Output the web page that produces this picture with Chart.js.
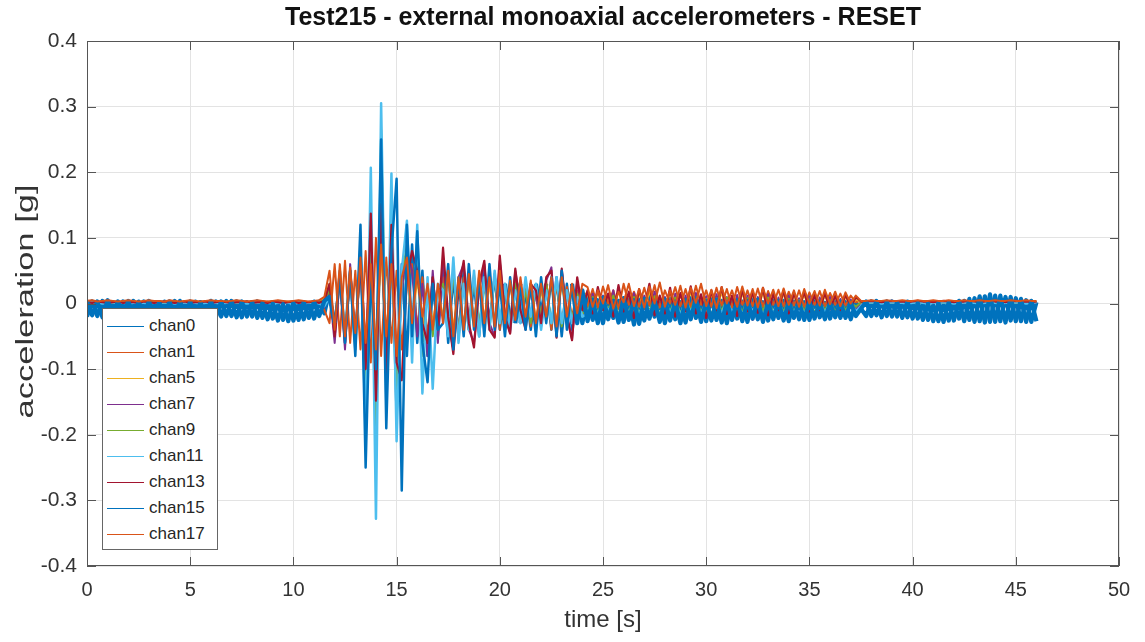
<!DOCTYPE html>
<html>
<head>
<meta charset="utf-8">
<script src="https://cdn.jsdelivr.net/npm/chart.js@4.4.0/dist/chart.umd.min.js"></script>
<style>
  html, body { margin: 0; padding: 0; background: #fff; }
  #wrap { position: relative; width: 1145px; height: 642px; }
  #legend {
    position: absolute; left: 102px; top: 308px; width: 116px; height: 242px;
    box-sizing: border-box; background: #fff; border: 1px solid #666;
    font-family: "Liberation Sans", Arial, Helvetica, sans-serif; font-size: 17px; color: #262626;
    padding-top: 4px;
  }
  .item { height: 26px; display: flex; align-items: center; }
  .swatch { width: 37px; height: 0; border-top: 1px solid; margin-left: 4px; margin-right: 5px; }
</style>
</head>
<body>
<div id="wrap">
  <canvas id="chart" width="1145" height="642"></canvas>
  <div id="legend"></div>
</div>
<script>
// Test215 record, decimated to one sample every 0.25 s (0 .. 46 s), values in g
const dt = 0.25;
const titleText = "Test215 - external monoaxial accelerometers - RESET";
const yTitle = "acceleration [g]";
const names = ["chan0", "chan1", "chan5", "chan7", "chan9", "chan11", "chan13", "chan15", "chan17"];
const colors = ["#0072BD", "#D95319", "#EDB120", "#7E2F8E", "#77AC30", "#4DBEEE", "#A2142F", "#0072BD", "#D95319"];
const widths = [2.5, 2, 2, 2, 2, 2.5, 2.2, 2.5, 2];
const xTicks = [0, 5, 10, 15, 20, 25, 30, 35, 40, 45, 50];
const yTicks = [-0.4, -0.3, -0.2, -0.1, 0, 0.1, 0.2, 0.3, 0.4];

const chan0 = [
  // 0 - 11.5 s
  -0.02, 0.003, -0.019, 0.004, -0.021, 0.002, -0.02, 0.003, -0.019, 0.004,
  -0.021, 0.003, -0.02, 0.002, -0.022, 0.003, -0.02, 0.004, -0.021, 0.002,
  -0.022, 0.003, -0.02, 0.002, -0.021, 0.003, -0.02, 0.004, -0.019, 0.003,
  -0.021, 0.002, -0.02, 0.003, -0.022, 0.001, -0.023, 0.0, -0.025, -0.001,
  -0.026, 0.0, -0.024, 0.001, -0.023, 0.003, -0.015,
  // 11.75 - 17 s
  0.02, -0.04, 0.05, -0.05, 0.04, -0.06, 0.08, -0.12, 0.1, -0.15,
  0.14, -0.1, 0.12, -0.17, 0.06, -0.08, 0.09, -0.06, 0.05, -0.08,
  0.04, -0.05,
  // 17.25 - 24 s
  0.05, -0.06, 0.04, -0.05, 0.05, -0.04, 0.03, -0.05, 0.05, -0.03,
  0.04, -0.04, 0.03, -0.03, 0.04, -0.03, 0.02, -0.04, 0.03, -0.02,
  0.03, -0.04, 0.04, -0.05, 0.03, -0.04, 0.02, -0.03,
  // 24.25 - 37.5 s
  0.01, -0.025, 0.005, -0.03, 0.012, -0.022, 0.004, -0.028, 0.008, -0.032,
  0.006, -0.026, 0.01, -0.02, 0.003, -0.03, 0.007, -0.024, 0.002, -0.029,
  0.008, -0.022, 0.005, -0.027, 0.009, -0.025, 0.004, -0.03, 0.006, -0.023,
  0.003, -0.028, 0.007, -0.024, 0.002, -0.026, 0.005, -0.022, 0.004, -0.027,
  0.003, -0.024, 0.002, -0.025, 0.004, -0.021, 0.001, -0.023, 0.003, -0.022,
  0.002, -0.024, 0.001, -0.008,
  // 37.75 - 46 s
  -0.019, 0.003, -0.018, 0.002, -0.019, 0.003, -0.02, 0.002, -0.021, 0.001,
  -0.023, 0.0, -0.025, -0.002, -0.027, -0.001, -0.026, 0.002, -0.023, 0.004,
  -0.025, 0.008, -0.027, 0.011, -0.028, 0.012, -0.027, 0.01, -0.026, 0.008,
  -0.027, 0.005, -0.028, 0.002
];

const chan1 = [
  0.003, 0.004, 0.002, 0.003, 0.004, 0.003, 0.002, 0.003, 0.004, 0.003,
  0.002, 0.003, 0.004, 0.003, 0.003, 0.002, 0.004, 0.003, 0.002, 0.003,
  0.004, 0.003, 0.002, 0.003, 0.004, 0.003, 0.003, 0.002, 0.003, 0.004,
  0.003, 0.002, 0.003, 0.004, 0.003, 0.002, 0.003, 0.004, 0.003, 0.002,
  0.003, 0.004, 0.003, 0.002, 0.003, 0.004, -0.01,
  -0.03, 0.06, -0.05, 0.065, -0.06, 0.05, -0.07, 0.08, -0.09, 0.1,
  -0.08, 0.07, -0.06, 0.05, -0.07, 0.03, 0.06, -0.04, 0.04, -0.05,
  0.03, -0.02,
  0.04, -0.04, 0.05, -0.045, 0.04, -0.03, 0.045, -0.04, 0.035, -0.03,
  0.045, -0.04, 0.03, -0.03, 0.035, -0.025, 0.03, -0.035, 0.025, -0.02,
  0.035, -0.04, 0.03, -0.03, 0.025, -0.02, 0.02, -0.01,
  -0.004, 0.022, -0.006, 0.026, 0.0, 0.02, -0.008, 0.03, -0.002, 0.018,
  -0.005, 0.024, -0.003, 0.028, -0.006, 0.02, 0.0, 0.025, -0.004, 0.022,
  -0.006, 0.027, -0.002, 0.02, -0.005, 0.024, -0.003, 0.022, -0.006, 0.025,
  -0.002, 0.02, -0.004, 0.023, -0.005, 0.019, -0.002, 0.021, -0.004, 0.018,
  -0.003, 0.02, -0.005, 0.017, -0.002, 0.019, -0.004, 0.016, -0.002, 0.015,
  -0.003, 0.012, 0.002, 0.004,
  0.003, 0.004, 0.003, 0.003, 0.004, 0.003, 0.003, 0.004, 0.003, 0.003,
  0.004, 0.003, 0.003, 0.004, 0.003, 0.003, 0.004, 0.003, 0.003, 0.004,
  0.003, 0.003, 0.004, 0.003, 0.003, 0.004, 0.003, 0.003, 0.004, 0.003,
  0.003, 0.004, 0.003, 0.003
];

const chan5 = [
  0.002, 0.003, 0.002, 0.002, 0.003, 0.002, 0.003, 0.002, 0.002, 0.003,
  0.002, 0.002, 0.003, 0.002, 0.003, 0.002, 0.002, 0.003, 0.002, 0.002,
  0.003, 0.002, 0.002, 0.003, 0.002, 0.003, 0.002, 0.002, 0.003, 0.002,
  0.002, 0.003, 0.002, 0.002, 0.003, 0.002, 0.003, 0.002, 0.002, 0.003,
  0.002, 0.002, 0.003, 0.002, 0.003, 0.002, 0.008,
  0.03, -0.04, 0.045, -0.05, 0.04, -0.05, 0.06, -0.07, 0.07, -0.08,
  0.08, -0.07, 0.07, -0.08, 0.03, 0.05, -0.04, 0.04, -0.04, 0.03,
  -0.03, 0.02,
  -0.02, 0.04, -0.04, 0.03, -0.035, 0.035, -0.03, 0.04, -0.025, 0.03,
  -0.03, 0.04, -0.025, 0.03, -0.02, 0.03, -0.02, 0.025, -0.025, 0.02,
  -0.02, 0.03, -0.03, 0.03, -0.015, 0.02, -0.01, 0.015,
  0.015, -0.01, 0.018, -0.008, 0.012, -0.012, 0.02, -0.006, 0.014, -0.01,
  0.016, -0.008, 0.019, -0.012, 0.01, -0.009, 0.017, -0.011, 0.013, -0.007,
  0.018, -0.01, 0.012, -0.013, 0.015, -0.006, 0.017, -0.01, 0.011, -0.012,
  0.016, -0.008, 0.014, -0.009, 0.017, -0.011, 0.012, -0.006, 0.015, -0.009,
  0.012, -0.005, 0.013, -0.008, 0.011, -0.006, 0.012, -0.005, 0.009, -0.006,
  0.01, -0.003, 0.006, 0.003,
  0.002, 0.003, 0.002, 0.002, 0.003, 0.002, 0.003, 0.002, 0.002, 0.003,
  0.002, 0.002, 0.003, 0.002, 0.003, 0.002, 0.002, 0.003, 0.002, 0.002,
  0.003, 0.002, 0.002, 0.003, 0.002, 0.003, 0.002, 0.002, 0.003, 0.002,
  0.002, 0.003, 0.002, 0.002
];

const chan7 = [
  0.001, 0.002, 0.002, 0.001, 0.002, 0.001, 0.002, 0.002, 0.001, 0.002,
  0.002, 0.001, 0.002, 0.002, 0.001, 0.002, 0.001, 0.002, 0.002, 0.001,
  0.002, 0.002, 0.001, 0.002, 0.001, 0.002, 0.002, 0.001, 0.002, 0.002,
  0.001, 0.002, 0.002, 0.001, 0.002, 0.001, 0.002, 0.002, 0.001, 0.002,
  0.002, 0.001, 0.002, 0.001, 0.002, 0.002, -0.006,
  0.02, -0.06, 0.04, -0.07, 0.06, -0.06, 0.08, -0.07, 0.1, -0.12,
  0.13, -0.09, 0.1, -0.13, 0.02, 0.08, 0.05, -0.05, 0.03, -0.08,
  0.05, -0.06,
  0.07, -0.03, -0.07, 0.04, 0.06, -0.04, -0.06, 0.02, 0.06, -0.03,
  -0.05, 0.065, -0.02, -0.045, 0.05, 0.0, -0.035, 0.025, 0.01, -0.035,
  0.035, 0.055, -0.05, 0.05, -0.015, -0.055, 0.035, -0.015,
  -0.02, 0.015, -0.025, 0.012, -0.018, 0.02, -0.028, 0.01, -0.022, 0.016,
  -0.026, 0.012, -0.02, 0.018, -0.024, 0.01, -0.027, 0.015, -0.021, 0.012,
  -0.025, 0.016, -0.019, 0.011, -0.026, 0.014, -0.022, 0.01, -0.024, 0.013,
  -0.02, 0.012, -0.025, 0.01, -0.018, 0.014, -0.023, 0.009, -0.02, 0.012,
  -0.021, 0.008, -0.019, 0.011, -0.022, 0.009, -0.017, 0.01, -0.02, 0.007,
  -0.016, 0.006, -0.01, 0.002,
  0.001, 0.002, 0.002, 0.001, 0.002, 0.001, 0.002, 0.002, 0.001, 0.002,
  0.002, 0.001, 0.002, 0.002, 0.001, 0.002, 0.001, 0.002, 0.002, 0.001,
  0.002, 0.002, 0.001, 0.002, 0.001, 0.002, 0.002, 0.001, 0.002, 0.002,
  0.001, 0.002, 0.002, 0.001
];

const chan9 = [
  0.002, 0.001, 0.002, 0.003, 0.002, 0.001, 0.002, 0.002, 0.003, 0.002,
  0.001, 0.002, 0.002, 0.003, 0.002, 0.001, 0.002, 0.003, 0.002, 0.002,
  0.001, 0.002, 0.003, 0.002, 0.002, 0.001, 0.002, 0.003, 0.002, 0.001,
  0.002, 0.002, 0.003, 0.002, 0.001, 0.002, 0.002, 0.003, 0.002, 0.001,
  0.002, 0.003, 0.002, 0.002, 0.001, 0.002, 0.005,
  0.02, -0.03, 0.035, -0.045, 0.05, -0.06, 0.07, -0.12, 0.1, -0.2,
  0.265, -0.1, 0.12, -0.14, 0.04, 0.09, -0.05, 0.07, -0.08, 0.02,
  -0.05, 0.02,
  0.03, -0.04, 0.05, -0.05, 0.03, -0.04, 0.04, -0.035, 0.03, -0.04,
  0.045, -0.03, 0.025, -0.035, 0.03, -0.025, 0.02, -0.03, 0.025, -0.02,
  0.03, -0.03, 0.035, -0.035, 0.02, -0.025, 0.015, -0.015,
  -0.012, 0.01, -0.016, 0.008, -0.01, 0.012, -0.018, 0.006, -0.014, 0.01,
  -0.017, 0.007, -0.012, 0.011, -0.019, 0.005, -0.013, 0.009, -0.016, 0.006,
  -0.011, 0.01, -0.015, 0.007, -0.018, 0.008, -0.012, 0.009, -0.016, 0.005,
  -0.014, 0.008, -0.017, 0.006, -0.012, 0.009, -0.015, 0.004, -0.013, 0.007,
  -0.014, 0.005, -0.012, 0.006, -0.015, 0.004, -0.011, 0.005, -0.013, 0.003,
  -0.01, 0.002, -0.005, 0.002,
  0.002, 0.001, 0.002, 0.003, 0.002, 0.001, 0.002, 0.002, 0.003, 0.002,
  0.001, 0.002, 0.002, 0.003, 0.002, 0.001, 0.002, 0.003, 0.002, 0.002,
  0.001, 0.002, 0.003, 0.002, 0.002, 0.001, 0.002, 0.003, 0.002, 0.001,
  0.002, 0.002, 0.003, 0.002
];

const chan11 = [
  0.001, 0.002, 0.001, 0.0, 0.001, 0.002, 0.001, 0.001, 0.0, 0.001,
  0.002, 0.001, 0.0, 0.001, 0.001, 0.002, 0.001, 0.0, 0.001, 0.002,
  0.001, 0.001, 0.0, 0.001, 0.002, 0.001, 0.0, 0.001, 0.001, 0.002,
  0.001, 0.0, 0.001, 0.002, 0.001, 0.001, 0.0, 0.001, 0.002, 0.001,
  0.0, 0.001, 0.001, 0.002, 0.001, 0.0, -0.004,
  0.01, -0.03, 0.03, -0.04, 0.05, -0.07, 0.09, -0.2, 0.207, -0.328,
  0.305, -0.15, 0.198, -0.21, 0.05, 0.126, -0.09, 0.12, -0.137, 0.04,
  -0.13, 0.03,
  0.02, -0.05, 0.07, -0.06, 0.03, -0.04, 0.05, -0.05, 0.04, -0.04,
  0.05, -0.03, 0.03, -0.04, 0.02, -0.03, 0.04, -0.02, 0.03, -0.04,
  0.02, -0.03, 0.04, -0.03, 0.02, -0.03, 0.01, -0.02,
  -0.015, 0.004, -0.018, 0.006, -0.012, 0.002, -0.02, 0.005, -0.016, 0.003,
  -0.019, 0.006, -0.014, 0.002, -0.021, 0.004, -0.015, 0.003, -0.018, 0.005,
  -0.013, 0.002, -0.017, 0.004, -0.02, 0.003, -0.016, 0.005, -0.014, 0.002,
  -0.018, 0.003, -0.015, 0.004, -0.019, 0.002, -0.016, 0.003, -0.017, 0.001,
  -0.015, 0.002, -0.016, 0.001, -0.018, 0.002, -0.014, 0.001, -0.02, 0.0,
  -0.016, 0.001, -0.012, -0.004,
  0.001, 0.002, 0.001, 0.0, 0.001, 0.002, 0.001, 0.001, 0.0, 0.001,
  0.002, 0.001, 0.0, 0.001, 0.001, 0.002, 0.001, 0.0, 0.001, 0.002,
  0.001, 0.001, 0.0, 0.001, 0.002, 0.001, 0.0, 0.001, 0.001, 0.002,
  0.001, 0.0, 0.001, 0.002
];

const chan13 = [
  0.002, 0.001, 0.003, 0.002, 0.001, 0.002, 0.003, 0.001, 0.002, 0.002,
  0.001, 0.003, 0.002, 0.001, 0.002, 0.003, 0.002, 0.001, 0.002, 0.003,
  0.001, 0.002, 0.002, 0.003, 0.001, 0.002, 0.003, 0.002, 0.001, 0.002,
  0.002, 0.003, 0.001, 0.002, 0.002, 0.001, 0.003, 0.002, 0.001, 0.002,
  0.003, 0.001, 0.002, 0.002, 0.003, 0.001, 0.004,
  0.03, -0.05, 0.04, -0.06, 0.05, -0.05, 0.06, -0.1, 0.137, -0.148,
  0.152, -0.11, 0.12, -0.09, -0.117, 0.04, 0.08, 0.05, -0.03, -0.06,
  0.04, -0.04,
  0.085, -0.02, -0.077, 0.02, 0.065, -0.03, -0.067, 0.03, 0.065, -0.04,
  -0.052, 0.073, -0.02, -0.046, 0.053, -0.01, -0.04, 0.03, 0.02, -0.03,
  0.04, 0.05, -0.052, 0.053, -0.02, -0.056, 0.04, -0.01,
  0.02, -0.015, 0.025, -0.01, 0.015, -0.02, 0.028, -0.012, 0.018, -0.022,
  0.022, -0.008, 0.03, -0.018, 0.012, -0.015, 0.024, -0.02, 0.016, -0.012,
  0.026, -0.015, 0.014, -0.022, 0.02, -0.01, 0.025, -0.016, 0.012, -0.019,
  0.022, -0.012, 0.018, -0.014, 0.024, -0.018, 0.015, -0.01, 0.02, -0.015,
  0.016, -0.008, 0.018, -0.012, 0.014, -0.01, 0.016, -0.009, 0.012, -0.01,
  0.014, -0.006, 0.01, 0.003,
  0.003, 0.004, 0.003, 0.002, 0.003, 0.004, 0.003, 0.003, 0.002, 0.003,
  0.004, 0.003, 0.003, 0.002, 0.003, 0.004, 0.003, 0.002, 0.003, 0.003,
  0.004, 0.003, 0.002, 0.003, 0.004, 0.003, 0.003, 0.002, 0.003, 0.004,
  0.003, 0.003, 0.002, 0.003
];

const chan15 = [
  0.004, -0.018, 0.003, -0.021, 0.005, -0.019, 0.003, -0.02, 0.004, -0.022,
  0.003, -0.019, 0.004, -0.021, 0.002, -0.02, 0.003, -0.022, 0.004, -0.019,
  0.003, -0.021, 0.002, -0.023, 0.004, -0.02, 0.003, -0.019, 0.004, -0.021,
  0.003, -0.02, 0.002, -0.022, 0.001, -0.024, 0.0, -0.026, -0.001, -0.027,
  0.001, -0.025, 0.002, -0.022, 0.003, -0.019, 0.004,
  0.01, -0.03, 0.04, -0.06, 0.05, -0.08, 0.12, -0.25, 0.05, -0.1,
  0.25, -0.19, 0.08, 0.19, -0.285, 0.12, -0.05, 0.11, -0.06, -0.12,
  0.03, -0.04,
  -0.03, 0.06, -0.07, 0.04, -0.05, 0.06, -0.04, 0.04, -0.05, 0.06,
  -0.04, 0.03, -0.05, 0.04, -0.03, 0.03, -0.04, 0.03, -0.05, 0.04,
  -0.03, 0.04, -0.05, 0.05, -0.04, 0.03, -0.03, 0.02,
  -0.027, 0.006, -0.03, 0.009, -0.024, 0.004, -0.029, 0.008, -0.025, 0.005,
  -0.031, 0.007, -0.023, 0.004, -0.028, 0.006, -0.026, 0.003, -0.03, 0.005,
  -0.024, 0.008, -0.028, 0.004, -0.026, 0.006, -0.029, 0.003, -0.025, 0.005,
  -0.027, 0.004, -0.023, 0.006, -0.028, 0.002, -0.024, 0.004, -0.026, 0.003,
  -0.022, 0.002, -0.025, 0.003, -0.023, 0.002, -0.024, 0.001, -0.021, 0.003,
  -0.022, 0.002, -0.019, -0.008,
  0.003, -0.019, 0.004, -0.021, 0.003, -0.02, 0.002, -0.022, 0.003, -0.023,
  0.001, -0.025, 0.0, -0.027, 0.001, -0.028, 0.002, -0.026, 0.004, -0.027,
  0.007, -0.028, 0.011, -0.029, 0.014, -0.028, 0.012, -0.029, 0.01, -0.027,
  0.007, -0.028, 0.004, -0.027
];

const chan17 = [
  0.004, 0.005, 0.003, 0.004, 0.005, 0.004, 0.003, 0.004, 0.005, 0.004,
  0.003, 0.004, 0.005, 0.004, 0.004, 0.003, 0.005, 0.004, 0.003, 0.004,
  0.005, 0.004, 0.003, 0.004, 0.005, 0.004, 0.004, 0.003, 0.004, 0.005,
  0.004, 0.003, 0.004, 0.005, 0.004, 0.003, 0.004, 0.005, 0.004, 0.003,
  0.004, 0.005, 0.004, 0.003, 0.004, 0.005, 0.01,
  0.05, -0.04, 0.06, -0.05, 0.055, -0.045, 0.07, -0.06, 0.06, -0.07,
  0.09, -0.05, 0.06, -0.08, 0.04, 0.07, -0.03, 0.05, -0.02, 0.03,
  -0.04, 0.03,
  -0.03, 0.05, -0.05, 0.04, -0.04, 0.045, -0.035, 0.05, -0.03, 0.04,
  -0.035, 0.05, -0.03, 0.035, -0.025, 0.04, -0.02, 0.035, -0.03, 0.03,
  -0.02, 0.04, -0.035, 0.04, -0.02, 0.03, -0.015, 0.03,
  0.025, -0.005, 0.02, 0.0, 0.028, -0.008, 0.018, 0.002, 0.03, -0.004,
  0.022, -0.006, 0.026, 0.0, 0.032, -0.005, 0.02, -0.002, 0.027, -0.006,
  0.024, 0.001, 0.03, -0.004, 0.021, -0.007, 0.025, 0.0, 0.02, -0.005,
  0.026, -0.003, 0.022, -0.006, 0.024, 0.0, 0.021, -0.004, 0.023, -0.002,
  0.02, -0.005, 0.022, 0.0, 0.019, -0.003, 0.021, -0.001, 0.018, -0.004,
  0.017, 0.0, 0.012, 0.004,
  0.004, 0.005, 0.004, 0.004, 0.005, 0.004, 0.004, 0.005, 0.004, 0.004,
  0.005, 0.004, 0.004, 0.005, 0.004, 0.004, 0.005, 0.004, 0.004, 0.005,
  0.004, 0.004, 0.005, 0.004, 0.004, 0.005, 0.004, 0.004, 0.005, 0.004,
  0.004, 0.005, 0.004, 0.004
];

const series = [chan0, chan1, chan5, chan7, chan9, chan11, chan13, chan15, chan17];
const fontFamily = '"Liberation Sans", Arial, Helvetica, sans-serif';
const textColor = "#333";

// the low-level noise of the raw trace prints as a solid band, so the
// small-amplitude stretches of the two blue channels get a heavier stroke
const noiseWidth = (i) => (ctx) =>
  (i === 0 || i === 7) && Math.abs(ctx.p0.parsed.y) < 0.035 && Math.abs(ctx.p1.parsed.y) < 0.035
    ? 4.2 : undefined;

// MATLAB draws later lines on top; Chart.js draws the lowest "order" last
const datasets = series.map((vals, i) => ({
  label: names[i],
  data: vals.map((v, k) => ({ x: k * dt, y: v })),
  borderColor: colors[i],
  backgroundColor: colors[i],
  borderWidth: widths[i],
  segment: { borderWidth: noiseWidth(i) },
  order: series.length - i,
}));

// box around the axes, inward ticks, title and y label
const framePlugin = {
  id: "frame",
  afterDraw(chart) {
    const { ctx, chartArea: a, scales } = chart;
    ctx.save();
    ctx.strokeStyle = "#555";
    ctx.lineWidth = 1;
    ctx.strokeRect(a.left + 0.5, a.top + 0.5, a.right - a.left - 1, a.bottom - a.top - 1);
    ctx.beginPath();
    xTicks.forEach((v) => {
      const px = Math.round(scales.x.getPixelForValue(v)) + 0.5;
      ctx.moveTo(px, a.bottom); ctx.lineTo(px, a.bottom - 9);
      ctx.moveTo(px, a.top); ctx.lineTo(px, a.top + 9);
    });
    yTicks.forEach((v) => {
      const py = Math.round(scales.y.getPixelForValue(v)) + 0.5;
      ctx.moveTo(a.left, py); ctx.lineTo(a.left + 9, py);
      ctx.moveTo(a.right, py); ctx.lineTo(a.right - 9, py);
    });
    ctx.stroke();

    ctx.fillStyle = "#111";
    ctx.font = "bold 25px " + fontFamily;
    ctx.textAlign = "center";
    ctx.textBaseline = "middle";
    ctx.fillText(titleText, (a.left + a.right) / 2, 18);

    // y label, stretched along its length as in the exported figure
    ctx.translate(27, (a.top + a.bottom) / 2 - 2);
    ctx.rotate(-Math.PI / 2);
    ctx.scale(1.5, 1);
    ctx.fillStyle = textColor;
    ctx.font = "23px " + fontFamily;
    ctx.fillText(yTitle, 0, 0);
    ctx.restore();
  },
};

new Chart(document.getElementById("chart"), {
  type: "line",
  data: { datasets },
  plugins: [framePlugin],
  options: {
    responsive: false,
    animation: false,
    layout: { padding: { left: 0, right: 26, top: 41, bottom: 0 } },
    elements: {
      point: { radius: 0 },
      line: { borderWidth: 2, tension: 0, borderJoinStyle: "round" },
    },
    plugins: { legend: { display: false }, tooltip: { enabled: false } },
    scales: {
      x: {
        type: "linear", min: 0, max: 50,
        afterFit: (s) => { s.height = 76; },
        ticks: { stepSize: 5, color: textColor, font: { size: 20, family: fontFamily }, padding: 12, maxRotation: 0, autoSkip: false },
        grid: { color: "#e3e3e3", drawTicks: false },
        border: { display: false },
        title: { display: true, text: "time [s]", color: textColor, font: { size: 24, family: fontFamily }, padding: { top: 0, bottom: 7 } },
      },
      y: {
        min: -0.4, max: 0.4,
        afterFit: (s) => { s.width = 87; },
        ticks: {
          stepSize: 0.1, color: textColor, font: { size: 21, family: fontFamily }, padding: 10,
          callback: (v) => String(Math.round(v * 10) / 10),
        },
        grid: { color: "#e3e3e3", drawTicks: false },
        border: { display: false },
      },
    },
  },
});

// legend box inside the axes, bottom-left, like the MATLAB figure
const legend = document.getElementById("legend");
names.forEach((name, i) => {
  const row = document.createElement("div");
  row.className = "item";
  const sw = document.createElement("span");
  sw.className = "swatch";
  sw.style.borderTopColor = colors[i];
  const label = document.createElement("span");
  label.textContent = name;
  row.appendChild(sw);
  row.appendChild(label);
  legend.appendChild(row);
});
</script>
</body>
</html>
